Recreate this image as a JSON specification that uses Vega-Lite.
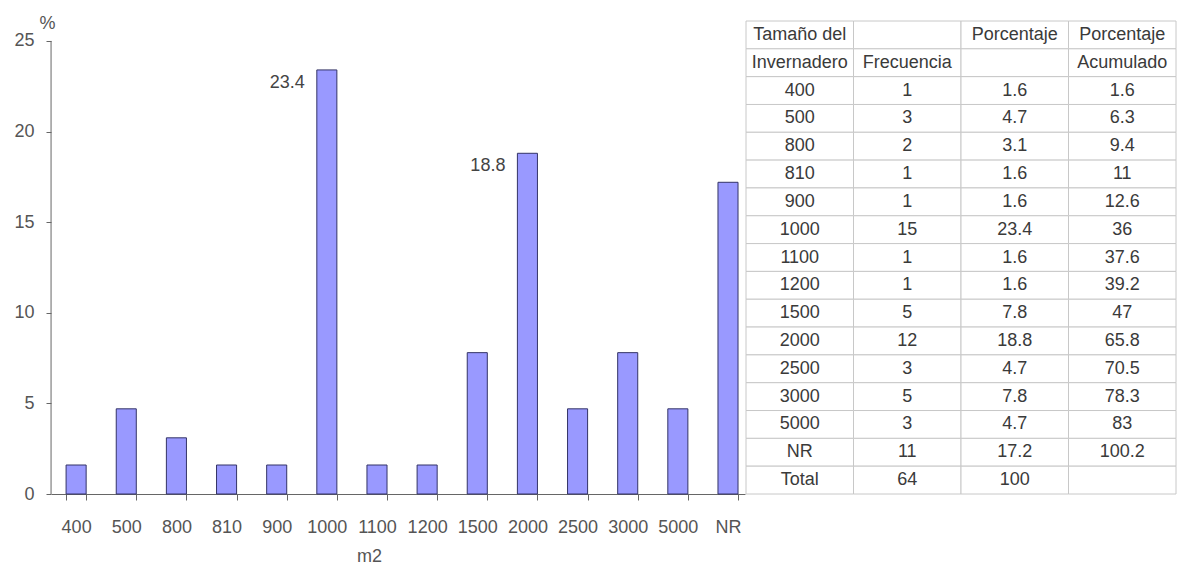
{
  "$schema": "https://vega.github.io/schema/vega-lite/v6.json",
  "background": "white",
  "padding": {"left": 13, "top": 14, "right": 0, "bottom": 0},
  "config": {"view": {"stroke": null}, "font": "Liberation Sans"},
  "spacing": 0,
  "hconcat": [
    {
      "width": 694,
      "height": 473,
      "data": {
        "values": [
          {"size": "400", "pct": 1.6},
          {"size": "500", "pct": 4.7},
          {"size": "800", "pct": 3.1},
          {"size": "810", "pct": 1.6},
          {"size": "900", "pct": 1.6},
          {"size": "1000", "pct": 23.4, "label": "23.4"},
          {"size": "1100", "pct": 1.6},
          {"size": "1200", "pct": 1.6},
          {"size": "1500", "pct": 7.8},
          {"size": "2000", "pct": 18.8, "label": "18.8"},
          {"size": "2500", "pct": 4.7},
          {"size": "3000", "pct": 7.8},
          {"size": "5000", "pct": 4.7},
          {"size": "NR", "pct": 17.2}
        ]
      },
      "encoding": {
        "x": {
          "field": "size",
          "type": "ordinal",
          "sort": null,
          "scale": {"paddingInner": 0.6, "paddingOuter": 0.22, "align": 0.684},
          "axis": {
            "title": "m2",
            "labelAngle": 0,
            "tickBand": "extent",
            "tickSize": 6,
            "labelPadding": 18,
            "labelFontSize": 18,
            "labelColor": "#555555",
            "domainColor": "#666666",
            "tickColor": "#666666",
            "titleFontSize": 18,
            "titleFontWeight": "normal",
            "titleColor": "#555555",
            "titleX": 318,
            "titleY": 67,
            "titleBaseline": "alphabetic"
          }
        },
        "y": {
          "field": "pct",
          "type": "quantitative",
          "scale": {"domain": [0, 26.1], "nice": false},
          "axis": {
            "title": "%",
            "titleAngle": 0,
            "titleAlign": "center",
            "titleBaseline": "alphabetic",
            "titleX": -4,
            "titleY": 7,
            "titleFontSize": 18,
            "titleFontWeight": "normal",
            "titleColor": "#555555",
            "values": [0, 5, 10, 15, 20, 25],
            "domain": false,
            "grid": false,
            "tickSize": 5,
            "tickColor": "#666666",
            "labelPadding": 12,
            "labelFontSize": 18,
            "labelColor": "#555555"
          }
        }
      },
      "layer": [
        {
          "mark": {"type": "bar", "fill": "#9999ff", "stroke": "#333366", "strokeWidth": 1}
        },
        {
          "transform": [{"filter": "isValid(datum.label)"}],
          "mark": {"type": "text", "align": "right", "baseline": "middle", "dx": -22, "dy": 13, "fontSize": 18, "color": "#444444"},
          "encoding": {"text": {"field": "label"}}
        },
        {
          "transform": [{"filter": "datum.size == '400'"}],
          "mark": {"type": "rule", "color": "#666666", "strokeWidth": 1},
          "encoding": {
            "x": {"field": "size", "type": "ordinal", "sort": null, "bandPosition": -0.75},
            "y": {"datum": 0},
            "y2": {"datum": 25}
          }
        }
      ]
    },
    {
      "width": 430,
      "height": 473,
      "data": {
        "values": [
          {"r": 0, "c1": "Tamaño del", "c2": "", "c3": "Porcentaje", "c4": "Porcentaje"},
          {"r": 1, "c1": "Invernadero", "c2": "Frecuencia", "c3": "", "c4": "Acumulado"},
          {"r": 2, "c1": "400", "c2": "1", "c3": "1.6", "c4": "1.6"},
          {"r": 3, "c1": "500", "c2": "3", "c3": "4.7", "c4": "6.3"},
          {"r": 4, "c1": "800", "c2": "2", "c3": "3.1", "c4": "9.4"},
          {"r": 5, "c1": "810", "c2": "1", "c3": "1.6", "c4": "11"},
          {"r": 6, "c1": "900", "c2": "1", "c3": "1.6", "c4": "12.6"},
          {"r": 7, "c1": "1000", "c2": "15", "c3": "23.4", "c4": "36"},
          {"r": 8, "c1": "1100", "c2": "1", "c3": "1.6", "c4": "37.6"},
          {"r": 9, "c1": "1200", "c2": "1", "c3": "1.6", "c4": "39.2"},
          {"r": 10, "c1": "1500", "c2": "5", "c3": "7.8", "c4": "47"},
          {"r": 11, "c1": "2000", "c2": "12", "c3": "18.8", "c4": "65.8"},
          {"r": 12, "c1": "2500", "c2": "3", "c3": "4.7", "c4": "70.5"},
          {"r": 13, "c1": "3000", "c2": "5", "c3": "7.8", "c4": "78.3"},
          {"r": 14, "c1": "5000", "c2": "3", "c3": "4.7", "c4": "83"},
          {"r": 15, "c1": "NR", "c2": "11", "c3": "17.2", "c4": "100.2"},
          {"r": 16, "c1": "Total", "c2": "64", "c3": "100", "c4": ""}
        ]
      },
      "transform": [{"fold": ["c1", "c2", "c3", "c4"], "as": ["col", "txt"]}],
      "encoding": {
        "x": {"field": "col", "type": "nominal", "axis": null, "scale": {"paddingInner": 0, "paddingOuter": 0}},
        "y": {"field": "r", "type": "ordinal", "axis": null, "scale": {"paddingInner": 0, "paddingOuter": 0}}
      },
      "layer": [
        {"mark": {"type": "rect", "fill": "white", "stroke": "#c8c8c8", "strokeWidth": 1}},
        {
          "mark": {"type": "text", "font": "Liberation Sans", "fontSize": 18, "color": "#3a3a3a"},
          "encoding": {"text": {"field": "txt"}}
        }
      ]
    }
  ]
}
